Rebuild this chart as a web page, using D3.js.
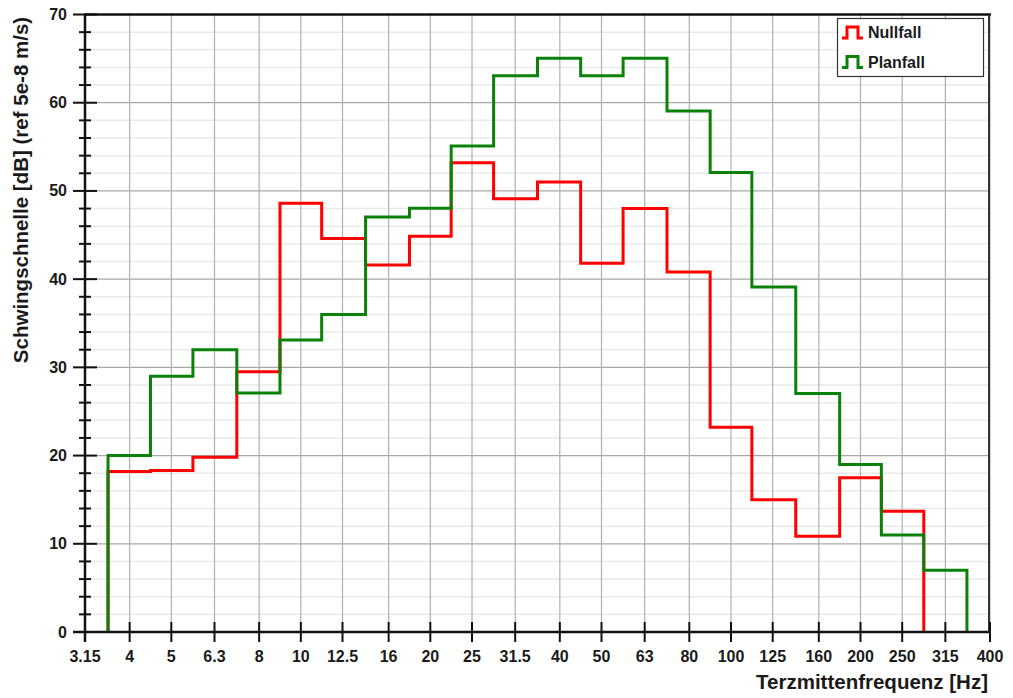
<!DOCTYPE html>
<html><head><meta charset="utf-8">
<script src="https://cdn.jsdelivr.net/npm/d3@7"></script>
<style>
body{margin:0;background:#fff;}
text{font-family:"Liberation Sans",Arial,sans-serif;font-weight:bold;fill:#1a1a1a;}
</style></head>
<body><svg id="c" width="1013" height="698"></svg>
<script>
const freqLabels = ["3.15","4","5","6.3","8","10","12.5","16","20","25","31.5","40","50","63","80","100","125","160","200","250","315","400"];
const nullfallBands = ["4","5","6.3","8","10","12.5","16","20","25","31.5","40","50","63","80","100","125","160","200","250"];
const nullfallValues = [18.2,18.3,19.8,29.5,48.6,44.6,41.6,44.85,53.2,49.1,51.0,41.8,48.0,40.8,23.2,15.0,10.85,17.5,13.7];
const planfallBands = ["4","5","6.3","8","10","12.5","16","20","25","31.5","40","50","63","80","100","125","160","200","250","315"];
const planfallValues = [20.0,29.0,32.0,27.1,33.1,36.0,47.05,48.05,55.1,63.05,65.05,63.05,65.05,59.05,52.1,39.1,27.05,19.0,11.0,7.0];
const yTicks = [0,10,20,30,40,50,60,70];
const seriesNames = ["Nullfall","Planfall"];
const seriesColors = ["#ff0000","#0a820a"];

const svg = d3.select("#c");
const L = 85, R = 990, T = 14.5, B = 632;
const x = d3.scaleLog().domain([+freqLabels[0], +freqLabels[freqLabels.length-1]]).range([L, R]);
const y = d3.scaleLinear().domain([0,70]).range([B, T]);
const third = Math.pow(2, 1/6);

// grid
const g = svg.append("g");
const minor = d3.range(0, 71, 2).filter(v => v % 10 !== 0);
g.selectAll(".mn").data(minor).join("line")
  .attr("x1", L).attr("x2", R).attr("y1", d=>y(d)).attr("y2", d=>y(d))
  .attr("stroke", "#e9e9e9").attr("stroke-width", 1.5);
g.selectAll(".mj").data(yTicks).join("line")
  .attr("x1", L).attr("x2", R).attr("y1", d=>y(d)).attr("y2", d=>y(d))
  .attr("stroke", "#a8a8a8").attr("stroke-width", 1.2);
g.selectAll(".vx").data(freqLabels).join("line")
  .attr("x1", d=>x(+d)).attr("x2", d=>x(+d)).attr("y1", T).attr("y2", B)
  .attr("stroke", "#b0b0b0").attr("stroke-width", 1.2);

function stepPoints(bands, vals){
  const f = bands.map(Number);
  const edges = [f[0]/third];
  for (let i=0;i<f.length-1;i++) edges.push(Math.sqrt(f[i]*f[i+1]));
  edges.push(f[f.length-1]*third);
  const pts = [[x(edges[0]), y(0)]];
  vals.forEach((v,i)=>{
    pts.push([x(edges[i]), y(v)]);
    pts.push([x(edges[i+1]), y(v)]);
  });
  pts.push([x(edges[edges.length-1]), y(0)]);
  return pts;
}
const line = d3.line();
svg.append("path").attr("d", line(stepPoints(nullfallBands, nullfallValues)))
  .attr("fill","none").attr("stroke", seriesColors[0]).attr("stroke-width", 3).attr("stroke-linejoin","miter");
svg.append("path").attr("d", line(stepPoints(planfallBands, planfallValues)))
  .attr("fill","none").attr("stroke", seriesColors[1]).attr("stroke-width", 3).attr("stroke-linejoin","miter");

// frame
svg.append("line").attr("x1", L).attr("x2", R+1).attr("y1", T).attr("y2", T).attr("stroke","#111").attr("stroke-width",2.5);
svg.append("line").attr("x1", R-1).attr("x2", R-1).attr("y1", T).attr("y2", B).attr("stroke","#333").attr("stroke-width",2);

// y axis
const yAxis = svg.append("g");
yAxis.append("line").attr("x1", L).attr("x2", L).attr("y1", T-1).attr("y2", B+10).attr("stroke","#111").attr("stroke-width",2.5);
yAxis.selectAll(".ymt").data(minor).join("line")
  .attr("x1", L-6).attr("x2", L+6).attr("y1", d=>y(d)).attr("y2", d=>y(d)).attr("stroke","#111").attr("stroke-width",2);
yAxis.selectAll(".yMt").data(yTicks).join("line")
  .attr("x1", L-12).attr("x2", L+12).attr("y1", d=>y(d)).attr("y2", d=>y(d)).attr("stroke","#111").attr("stroke-width",2);
yAxis.selectAll(".yl").data(yTicks).join("text")
  .attr("x", L-18).attr("y", d=>y(d)+5.5).attr("text-anchor","end").attr("font-size",16).text(d=>d);

// x axis
const xAxis = svg.append("g");
xAxis.append("line").attr("x1", L-12).attr("x2", R+1).attr("y1", B).attr("y2", B).attr("stroke","#111").attr("stroke-width",2.5);
xAxis.selectAll(".xt").data(freqLabels).join("line")
  .attr("x1", d=>x(+d)).attr("x2", d=>x(+d)).attr("y1", B-10).attr("y2", B+10).attr("stroke","#111").attr("stroke-width",2);
xAxis.selectAll(".xl").data(freqLabels).join("text")
  .attr("x", d=>x(+d)).attr("y", 662).attr("text-anchor","middle").attr("font-size",16).text(d=>d);

// titles
svg.append("text").attr("x", 988).attr("y", 689).attr("text-anchor","end").attr("font-size",20.5).text("Terzmittenfrequenz [Hz]");
svg.append("text").attr("transform","translate(28,190) rotate(-90)").attr("text-anchor","middle").attr("font-size",20.5).text("Schwingschnelle [dB] (ref 5e-8 m/s)");

// legend
const lg = svg.append("g");
lg.append("rect").attr("x",837.5).attr("y",18.5).attr("width",146).attr("height",58).attr("fill","#fff").attr("stroke","#333").attr("stroke-width",1.2);
seriesNames.forEach((n,i)=>{
  const yb = 38 + i*29.5;
  lg.append("path").attr("d", `M842,${yb} H847 V${yb-11} H858 V${yb} H863`)
    .attr("fill","none").attr("stroke", seriesColors[i]).attr("stroke-width",3);
  lg.append("text").attr("x",868).attr("y",yb).attr("font-size",16).text(n);
});
</script></body></html>
